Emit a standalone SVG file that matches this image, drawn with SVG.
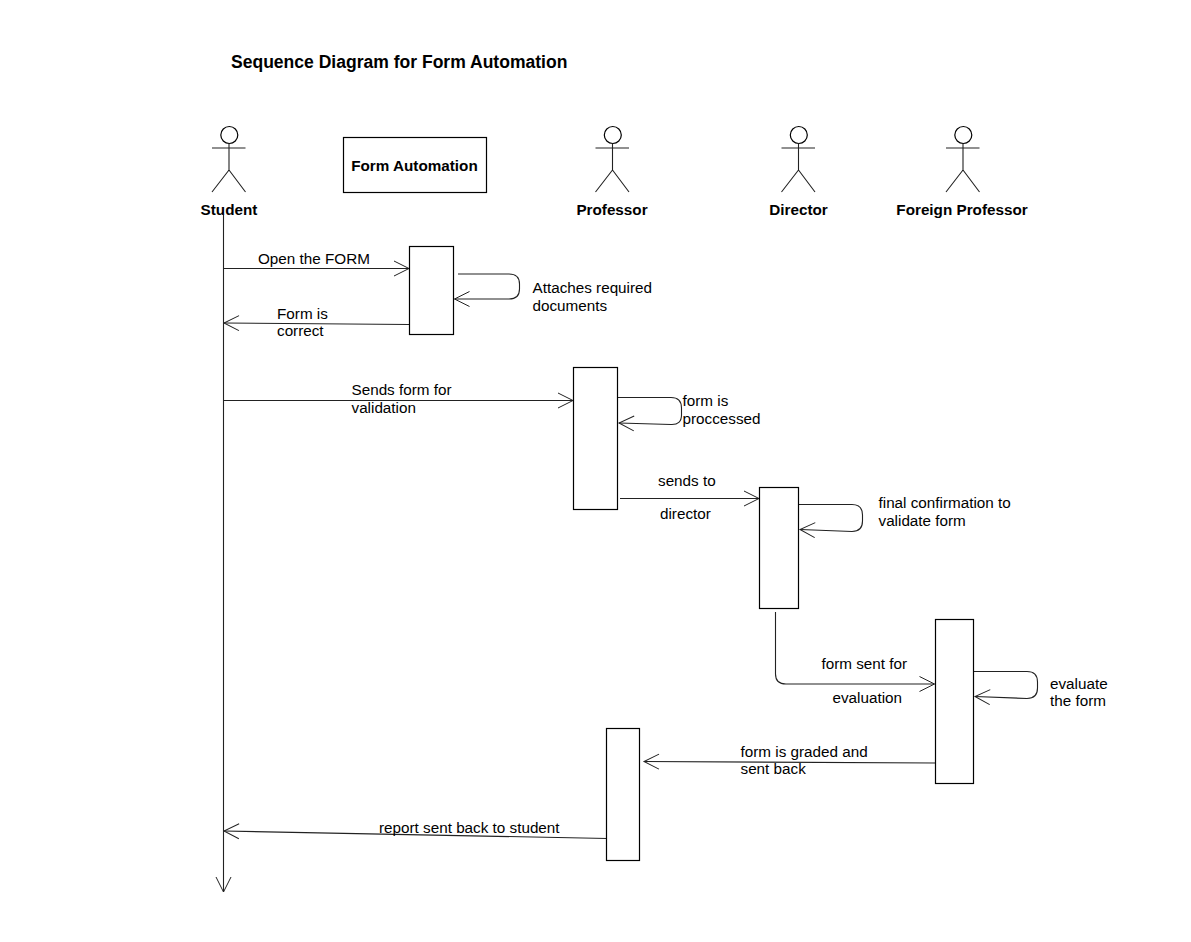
<svg xmlns="http://www.w3.org/2000/svg" width="1191" height="942" viewBox="0 0 1191 942">
<defs>
<marker id="open" markerUnits="userSpaceOnUse" markerWidth="20" markerHeight="20" refX="16" refY="10" orient="auto"><path d="M1 2.500L16 10L1 17.500" fill="none" stroke="#222" stroke-width="1"/></marker>
</defs>
<style>
text{font-family:"Liberation Sans",Arial,sans-serif;font-size:15.250px;fill:#000}
.b{font-weight:bold}
.s{fill:#fff;stroke:#000;stroke-width:1.200}
.a{fill:none;stroke:#222;stroke-width:1.100}
.c{fill:none;stroke:#222;stroke-width:1.100;marker-end:url(#open)}
</style>
<rect width="1191" height="942" fill="#fff"/>
<text class="b" x="231" y="67.500" style="font-size:17.550px">Sequence Diagram for Form Automation</text>
<g id="connectors">
<path class="c" d="M223.500 215V892"/>
<path class="c" d="M223.500 268.500H409"/>
<path class="c" d="M458 274H509Q519.500 274 519.500 284V289Q519.500 299 509 299H454.500"/>
<path class="c" d="M409.500 324.500L224 323"/>
<path class="c" d="M223.500 400.500H573"/>
<path class="c" d="M617.500 397.500H671Q681.500 397.500 681.500 408V415Q681.500 425 671 424.500L619 423"/>
<path class="c" d="M620 498.500H759"/>
<path class="c" d="M798.500 504.500H852Q862.500 504.500 862.500 515V521Q862.500 531.500 852 531.500L800 529.500"/>
<path class="c" d="M775.500 612V674Q775.500 684 786 684H934.500"/>
<path class="c" d="M973.500 671.500H1027Q1037.500 671.500 1037.500 682V688Q1037.500 698.500 1027 698.500L975 696.500"/>
<path class="c" d="M935.500 763L644 761.500"/>
<path class="c" d="M607.500 838.500L224 831"/>
</g>
<g id="actor-student"><circle class="s" cx="229.300" cy="135" r="8.500"/><path class="a" d="M212 148H245.500M229 143.500V170M229 170L212 192M229 170L245.500 192"/><text class="b" x="229" y="214.500" text-anchor="middle">Student</text></g>
<g id="lifeline-form-automation"><rect class="s" x="343.500" y="137.500" width="143" height="55"/><text class="b" x="414.500" y="170.500" text-anchor="middle">Form Automation</text></g>
<g id="actor-professor"><circle class="s" cx="612.800" cy="135" r="8.500"/><path class="a" d="M595.500 148H629M612.500 143.500V170M612.500 170L595.500 192M612.500 170L629 192"/><text class="b" x="612" y="214.500" text-anchor="middle">Professor</text></g>
<g id="actor-director"><circle class="s" cx="798.800" cy="135" r="8.500"/><path class="a" d="M781.500 148H815M798.500 143.500V170M798.500 170L781.500 192M798.500 170L815 192"/><text class="b" x="798.500" y="214.500" text-anchor="middle">Director</text></g>
<g id="actor-foreign-professor"><circle class="s" cx="963.300" cy="135" r="8.500"/><path class="a" d="M946 148H979.500M963 143.500V170M963 170L946 192M963 170L979.500 192"/><text class="b" x="962" y="214.500" text-anchor="middle">Foreign Professor</text></g>
<g id="activation-form"><rect class="s" x="409.500" y="246.500" width="44" height="88"/></g>
<g id="activation-professor"><rect class="s" x="573.500" y="367.500" width="44" height="142"/></g>
<g id="activation-director"><rect class="s" x="759.500" y="487.500" width="39" height="121"/></g>
<g id="activation-foreign"><rect class="s" x="935.500" y="619.500" width="38" height="164"/></g>
<g id="activation-return"><rect class="s" x="606.500" y="728.500" width="33" height="132"/></g>
<g id="labels">
<text x="258" y="263.500">Open the FORM</text>
<text x="532.500" y="292.500">Attaches required</text>
<text x="532.500" y="310.500">documents</text>
<text x="277" y="318.500">Form is</text>
<text x="277" y="335.500">correct</text>
<text x="351.500" y="394.500">Sends form for</text>
<text x="351.500" y="412.500">validation</text>
<text x="682.500" y="405.500">form is</text>
<text x="682.500" y="423.500">proccessed</text>
<text x="658" y="485.500">sends to</text>
<text x="660" y="518.500">director</text>
<text x="878.500" y="507.500">final confirmation to</text>
<text x="878.500" y="525.500">validate form</text>
<text x="821.500" y="668.500">form sent for</text>
<text x="832.500" y="702.500">evaluation</text>
<text x="1050" y="688.500">evaluate</text>
<text x="1050" y="705.500">the form</text>
<text x="740.500" y="756.500">form is graded and</text>
<text x="740.500" y="773.500">sent back</text>
<text x="379" y="832.500">report sent back to student</text>
</g>
</svg>
